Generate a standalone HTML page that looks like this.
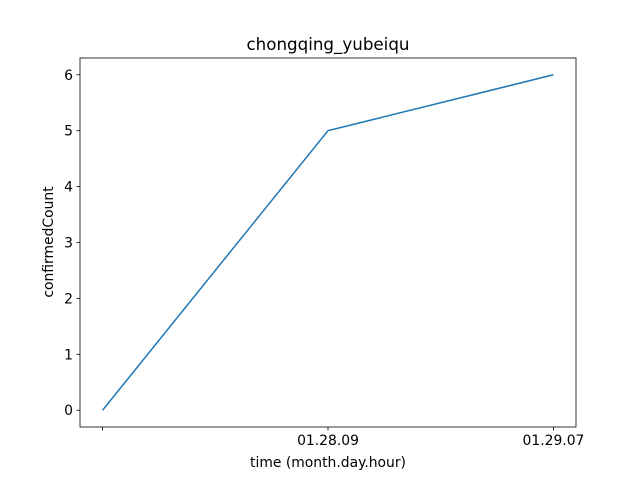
<!DOCTYPE html>
<html><head><meta charset="utf-8"><style>
body{margin:0;background:#fff;}
svg{display:block;font-family:"DejaVu Sans","Liberation Sans",sans-serif;}
</style></head><body>
<svg id="chart" width="640" height="480">
<rect width="640" height="480" fill="#fff"/>
<text x="328" y="50" font-size="16.7" text-anchor="middle">chongqing_yubeiqu</text>
<g id="ticks"></g>
<polyline id="line" fill="none" stroke="#1f77b4" stroke-width="1.5"/>
<rect x="80" y="58" width="496" height="369" fill="none" stroke="#000" stroke-width="0.8"/>
<text x="328" y="467" font-size="13.9" text-anchor="middle">time (month.day.hour)</text>
<text x="0" y="0" font-size="13.9" text-anchor="middle" transform="translate(53,242) rotate(-90)">confirmedCount</text>
</svg>
<script>
const categories = ["", "01.28.09", "01.29.07"];
const values = [0, 5, 6];
const yTicks = [0, 1, 2, 3, 4, 5, 6];
const L=80,R=576,T=58,B=427;
const xMin=-0.1,xMax=categories.length-1+0.1,yMin=-0.3,yMax=6.3;
function xs(i){return L+(i-xMin)/(xMax-xMin)*(R-L);}
function ys(v){return B-(v-yMin)/(yMax-yMin)*(B-T);}
const NS="http://www.w3.org/2000/svg";
const g=document.getElementById('ticks');
function mk(tag,attrs){const e=document.createElementNS(NS,tag);for(const k in attrs)e.setAttribute(k,attrs[k]);return e;}
categories.forEach((c,i)=>{
  const t=mk('line',{x1:xs(i),x2:xs(i),y1:B,y2:B+3.5,stroke:'#000','stroke-width':0.8});
  
  
  g.appendChild(t);
  const l=mk('text',{x:xs(i),y:B+18,'font-size':13.9,'text-anchor':'middle'});
  l.textContent=c;
  
  
  g.appendChild(l);
});
yTicks.forEach(v=>{
  const t=mk('line',{x1:L-3.5,x2:L,y1:ys(v),y2:ys(v),stroke:'#000','stroke-width':0.8});
  
  
  g.appendChild(t);
  const l=mk('text',{x:L-7,y:ys(v)+5,'font-size':13.9,'text-anchor':'end'});
  l.textContent=v;
  
  
  g.appendChild(l);
});
document.getElementById('line').setAttribute('points',values.map((v,i)=>xs(i)+','+ys(v)).join(' '));
</script>
</body></html>
